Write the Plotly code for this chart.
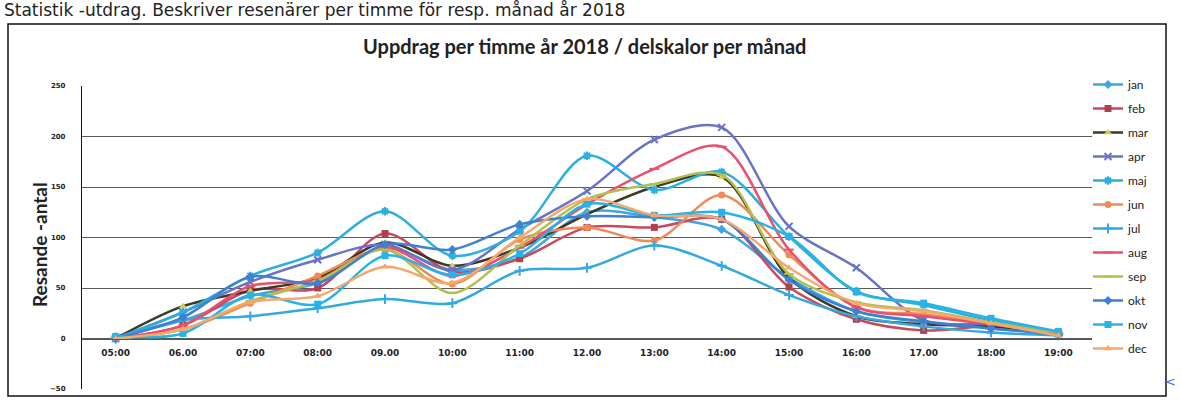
import plotly.graph_objects as go

hours = ["05:00", "06.00", "07:00", "08:00", "09.00", "10:00", "11:00", "12.00",
         "13:00", "14:00", "15:00", "16:00", "17.00", "18:00", "19:00"]
months = ["jan", "feb", "mar", "apr", "maj", "jun", "jul", "aug", "sep", "okt", "nov", "dec"]

jan = [2, 18, 42, 55, 90, 68, 80, 125, 120, 108, 60, 27, 16, 10, 5]
feb = [0, 13, 48, 50, 104, 66, 79, 110, 110, 118, 51, 19, 8, 12, 5]
mar = [0, 32, 47, 60, 95, 72, 90, 123, 150, 160, 60, 22, 14, 12, 4]
apr = [0, 26, 56, 78, 93, 68, 108, 146, 197, 209, 111, 70, 18, 14, 5]
maj = [0, 26, 62, 85, 126, 82, 106, 181, 147, 165, 101, 47, 33, 18, 6]
jun = [0, 9, 35, 62, 88, 54, 98, 110, 97, 142, 83, 31, 24, 15, 4]
jul = [0, 18, 22, 30, 39, 35, 67, 70, 92, 72, 43, 22, 12, 6, 3]
aug = [0, 13, 52, 58, 90, 62, 90, 133, 168, 190, 88, 31, 22, 14, 5]
sep = [0, 9, 37, 57, 88, 45, 92, 138, 153, 162, 64, 36, 28, 16, 5]
okt = [0, 21, 61, 55, 93, 88, 113, 121, 120, 118, 58, 27, 17, 10, 4]
nov = [2, 5, 43, 34, 82, 63, 84, 133, 122, 125, 101, 46, 35, 20, 7]
dec = [0, 9, 36, 42, 71, 55, 100, 138, 122, 118, 70, 35, 27, 15, 3]

series = [jan, feb, mar, apr, maj, jun, jul, aug, sep, okt, nov, dec]
line_colors = ["#3fa6de", "#c9485e", "#3b3a22", "#6872c6", "#2eaede", "#f08a58",
               "#33a9e2", "#ea4f6c", "#b4bf52", "#3e80d2", "#27b2e8", "#f6a86c"]
marker_colors = ["#3fa6de", "#b0404f", "#d6cc4a", "#6872c6", "#2eaede", "#f08a58",
                 "#33a9e2", "#ea4f6c", "#b4bf52", "#3e80d2", "#27b2e8", "#f6a86c"]
symbols = ["diamond", "square", "triangle-up", "x-thin", "asterisk", "circle",
           "cross-thin", "line-ew", "line-ew", "diamond", "square", "triangle-up"]

W, H = 1181, 401
L, R, T, B = 82, 89, 86, 12
PW, PH = W - L - R, H - T - B


def px(x):
    return (x - L) / PW


def py(y):
    return 1 - (y - T) / PH


fig = go.Figure()
for name, vals, lc, mc, sym in zip(months, series, line_colors, marker_colors, symbols):
    open_sym = sym in ("x-thin", "asterisk", "cross-thin", "line-ew")
    fig.add_trace(go.Scatter(
        x=hours, y=vals, name=name, mode="lines+markers",
        line=dict(color=lc, width=2.5, shape="spline", smoothing=0.9),
        marker=dict(symbol=sym, size=7, color=mc,
                    line=dict(color=mc, width=2 if open_sym else 0)),
        legendgroup=name,
    ))

fig.update_layout(
    width=W, height=H,
    margin=dict(l=L, r=R, t=T, b=B, autoexpand=False),
    paper_bgcolor="white", plot_bgcolor="white",
    showlegend=True,
    legend=dict(x=px(1088), y=py(70), xanchor="left", yanchor="top",
                font=dict(family="Lato", size=12, color="#222"),
                tracegroupgap=5, bgcolor="rgba(0,0,0,0)", maxheight=390),
    xaxis=dict(type="category", range=[-0.5, 14.5], anchor="free", position=50 / 300,
               showline=True, linecolor="#555", linewidth=1, showgrid=False,
               ticks="", ticklabelstandoff=6,
               tickfont=dict(family="DejaVu Sans", size=9, color="#222", weight="bold")),
    yaxis=dict(range=[-50, 250], tickvals=[-50, 0, 50, 100, 150, 200, 250],
               showgrid=True, gridcolor="#5a5a5a", gridwidth=1, zeroline=False,
               showline=True, linecolor="#111", linewidth=1.2,
               ticks="", ticklabelstandoff=14,
               tickfont=dict(family="DejaVu Sans", size=7, color="#222", weight="bold")),
)

annotations = [
    dict(text="Statistik -utdrag. Beskriver resenärer per timme för resp. månad år 2018",
         x=px(2), y=py(10), xanchor="left", yanchor="middle", showarrow=False,
         font=dict(family="DejaVu Sans", size=17, color="#222")),
    dict(text="<b>Uppdrag per timme år 2018 / delskalor per månad</b>",
         x=px(584), y=py(46), xanchor="center", yanchor="middle", showarrow=False,
         font=dict(family="Lato", size=20, color="#222")),
    dict(text="<b>Resande -antal</b>", textangle=-90,
         x=px(39), y=py(245), xanchor="center", yanchor="middle", showarrow=False,
         font=dict(family="Lato", size=19, color="#222")),
    dict(text="<", x=px(1170), y=py(381), xanchor="center", yanchor="middle", showarrow=False,
         font=dict(family="DejaVu Sans", size=13, color="#4a6fd8")),
]
for a in annotations:
    a.update(xref="paper", yref="paper")
fig.update_layout(annotations=annotations)

fig.add_shape(type="rect", xref="paper", yref="paper",
              x0=px(8), x1=px(1166), y0=py(24), y1=py(396),
              line=dict(color="#111", width=1.5), fillcolor="rgba(0,0,0,0)", layer="below")

fig.write_html("out.html", config={"displayModeBar": False},
               post_script="document.body.style.margin='0';")
